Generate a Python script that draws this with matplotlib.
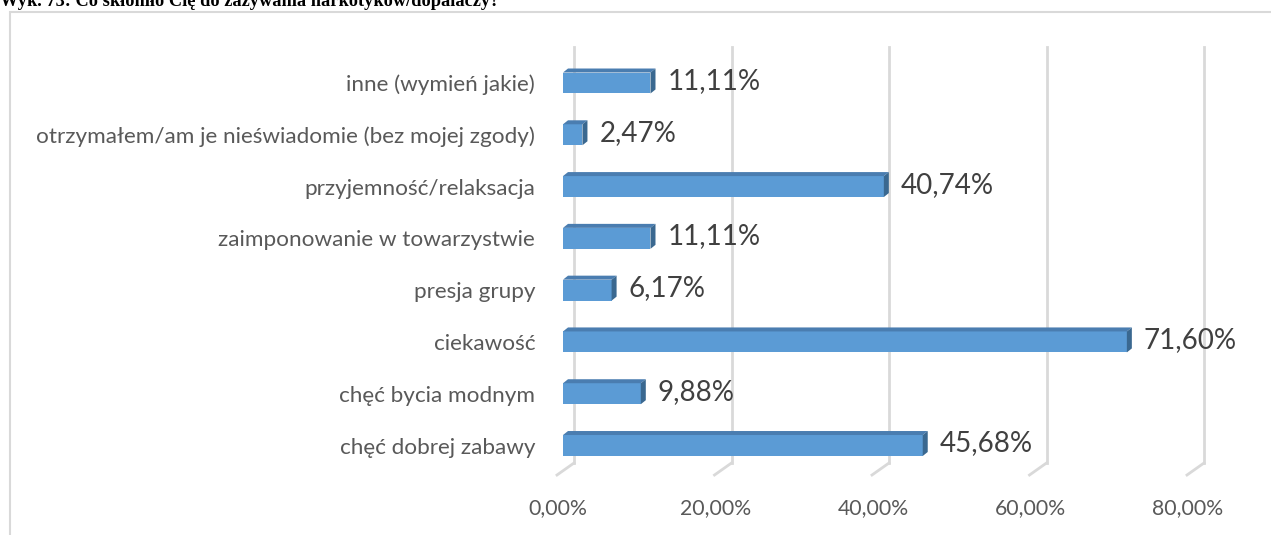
import matplotlib
matplotlib.use("Agg")
import matplotlib.pyplot as plt
from matplotlib.patches import Polygon, Rectangle
from matplotlib.lines import Line2D
import matplotlib.transforms as mtrans

# Dane wykresu (od dołu do góry)
kategorie = [
    "chęć dobrej zabawy",
    "chęć bycia modnym",
    "ciekawość",
    "presja grupy",
    "zaimponowanie w towarzystwie",
    "przyjemność/relaksacja",
    "otrzymałem/am je nieświadomie (bez mojej zgody)",
    "inne (wymień jakie)",
]
procenty = [45.68, 9.88, 71.60, 6.17, 11.11, 40.74, 2.47, 11.11]
ticki = [0, 20, 40, 60, 80]
etykiety_tickow = ["0,00%", "20,00%", "40,00%", "60,00%", "80,00%"]

W, H = 1271, 535
plt.rcParams['font.family'] = ['Lato', 'DejaVu Sans']

fig = plt.figure(figsize=(W / 100, H / 100), dpi=100)

# ramka wykresu
fig.patches.append(Rectangle((9.5 / W, -0.1), 1.2, 1 - 11.5 / H + 0.1,
                             transform=fig.transFigure, fill=False,
                             edgecolor='#D9D9D9', lw=1.5))

# tytuł (ucięty u góry)
fig.text(0.0, 1 - 6 / H, "Wyk. 73: Co skłoniło Cię do zażywania narkotyków/dopalaczy?",
         family='Liberation Serif', fontweight='bold', fontsize=13.2,
         va='baseline', ha='left', color='black')

# osie: przód wykresu
left_px, right_px = 563, 1193
top_px, bot_px = 57.1, 471.4
ax = fig.add_axes([left_px / W, 1 - bot_px / H, (right_px - left_px) / W, (bot_px - top_px) / H])
ax.set_xlim(0, 80)
ax.set_ylim(-0.5, len(kategorie) - 0.5)
ax.patch.set_visible(False)
for s in ax.spines.values():
    s.set_visible(False)

px_x = 80 / (right_px - left_px)
px_y = len(kategorie) / (bot_px - top_px)

# siatka na tylnej ścianie + podłoga
gx, gy_top, gy_bot = 11, 47, 463
for t in ticki:
    xb = t + gx * px_x
    ax.add_line(Line2D([xb, xb], [-0.5 + (bot_px - gy_bot) * px_y, -0.5 + (bot_px - gy_top) * px_y],
                       color='#D9D9D9', lw=2, zorder=0, clip_on=False))
    ax.add_line(Line2D([xb, t - 6 * px_x], [-0.5 + (bot_px - gy_bot) * px_y, -0.5 - (475 - bot_px) * px_y],
                       color='#D9D9D9', lw=2, zorder=0, clip_on=False))

# słupki 3D
h = 0.405
dx, dy = 5 * px_x, 4 * px_y
y_pos = list(range(len(kategorie)))
ax.barh(y_pos, procenty, height=h, color='#5B9BD5', edgecolor='none', zorder=3)
for y, v in zip(y_pos, procenty):
    top = [(0, y + h / 2), (v, y + h / 2), (v + dx, y + h / 2 + dy), (dx, y + h / 2 + dy)]
    side = [(v, y - h / 2), (v + dx, y - h / 2 + dy), (v + dx, y + h / 2 + dy), (v, y + h / 2)]
    ax.add_patch(Polygon(top, closed=True, facecolor='#4A7DB0', edgecolor='none', zorder=3))
    ax.add_patch(Polygon(side, closed=True, facecolor='#3A6890', edgecolor='none', zorder=3))
    ax.text(v + 17 * px_x, y + 2 * px_y, f"{v:.2f}%".replace('.', ','),
            fontsize=20, color='#404040', va='center', ha='left', zorder=5)

ax.set_yticks(y_pos)
ax.set_yticklabels(kategorie, fontsize=16.2, color='#595959')
ax.set_xticks(ticki)
ax.set_xticklabels(etykiety_tickow, fontsize=15.3, color='#595959')
ax.tick_params(axis='both', length=0)
ax.tick_params(axis='y', pad=20)
ax.tick_params(axis='x', pad=19)
shift = mtrans.ScaledTranslation(-5 / 100, 0, fig.dpi_scale_trans)
for lbl in ax.get_xticklabels():
    lbl.set_transform(lbl.get_transform() + shift)

fig.savefig("out.png", dpi=100)
